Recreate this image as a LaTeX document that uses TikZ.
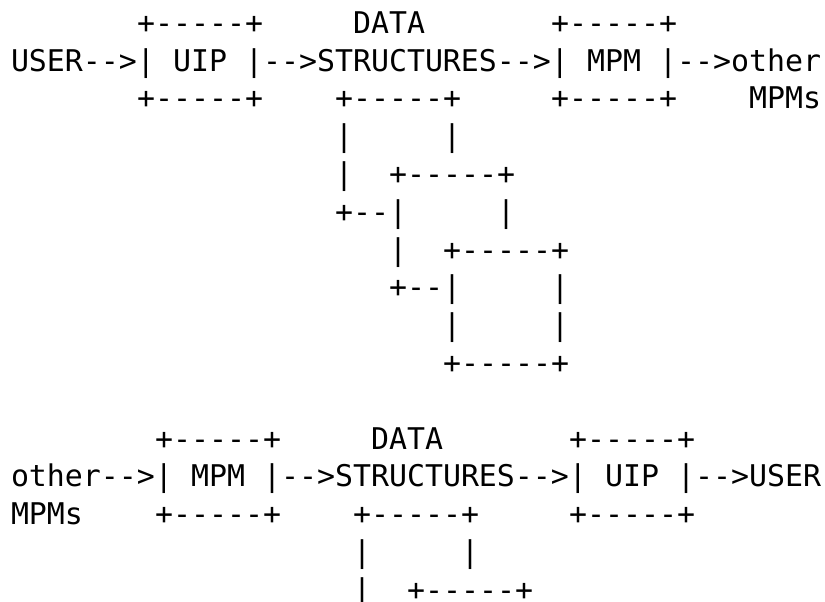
\documentclass[tikz,border=0pt]{standalone}
\usepackage{fontspec}
\setmonofont{DejaVu Sans Mono}
\begin{document}
\begin{tikzpicture}[x=1pt,y=-1pt,
  ascii/.style={anchor=base west,inner sep=0pt,outer sep=0pt,
    font=\ttfamily\fontsize{29.9}{37.8}\selectfont,text=black}]
\useasboundingbox[fill=white] (0,0) rectangle (825,602);
\newcommand\seg[4]{\node[ascii] (#1) at ({11+18*#2},{33.2+37.8*#3}) {#4};}
% upper diagram
\seg{a0a}{7}{0}{+-----+}
\seg{a0b}{19}{0}{DATA}
\seg{a0c}{30}{0}{+-----+}
\seg{a1a}{0}{1}{USER-->|}
\seg{a1b}{9}{1}{UIP}
\seg{a1c}{13}{1}{|-->STRUCTURES-->|}
\seg{a1d}{32}{1}{MPM}
\seg{a1e}{36}{1}{|-->other}
\seg{a2a}{7}{2}{+-----+}
\seg{a2b}{18}{2}{+-----+}
\seg{a2c}{30}{2}{+-----+}
\seg{a2d}{41}{2}{MPMs}
\seg{a3a}{18}{3}{|}
\seg{a3b}{24}{3}{|}
\seg{a4a}{18}{4}{|}
\seg{a4b}{21}{4}{+-----+}
\seg{a5a}{18}{5}{+--|}
\seg{a5b}{27}{5}{|}
\seg{a6a}{21}{6}{|}
\seg{a6b}{24}{6}{+-----+}
\seg{a7a}{21}{7}{+--|}
\seg{a7b}{30}{7}{|}
\seg{a8a}{24}{8}{|}
\seg{a8b}{30}{8}{|}
\seg{a9a}{24}{9}{+-----+}
% lower diagram
\seg{b0a}{8}{11}{+-----+}
\seg{b0b}{20}{11}{DATA}
\seg{b0c}{31}{11}{+-----+}
\seg{b1a}{0}{12}{other-->|}
\seg{b1b}{10}{12}{MPM}
\seg{b1c}{14}{12}{|-->STRUCTURES-->|}
\seg{b1d}{33}{12}{UIP}
\seg{b1e}{37}{12}{|-->USER}
\seg{b2a}{0}{13}{MPMs}
\seg{b2b}{8}{13}{+-----+}
\seg{b2c}{19}{13}{+-----+}
\seg{b2d}{31}{13}{+-----+}
\seg{b3a}{19}{14}{|}
\seg{b3b}{25}{14}{|}
\seg{b4a}{19}{15}{|}
\seg{b4b}{22}{15}{+-----+}
\end{tikzpicture}
\end{document}
